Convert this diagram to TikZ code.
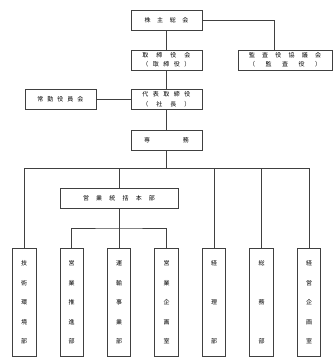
\documentclass[tikz,border=0pt]{standalone}
\usepackage{fontspec}
\newfontfamily\jpfont{Noto Sans CJK JP}
\newcommand{\spr}[2]{\makebox[#1][s]{#2}}

\begin{document}
\begin{tikzpicture}[x=1pt,y=-1pt,
    box/.style={draw=black!75, line width=0.6pt, minimum width=71pt, minimum height=20pt,
        inner sep=0pt, align=center, font=\jpfont\fontsize{6}{9.5}\selectfont},
    tallbox/.style={draw=black!75, line width=0.6pt, minimum width=23.5pt, minimum height=108pt,
        inner sep=0pt, anchor=north, align=center, font=\jpfont\fontsize{6}{19.5}\selectfont},
    link/.style={draw=black!75, line width=0.6pt}]
    \useasboundingbox (0,0) rectangle (333,357);

    % Top of the chart
    \node[box] (kabu) at (166.5,20) {\spr{44pt}{株\hfill 主\hfill 総\hfill 会}};
    \node[box] (torishimari) at (166.5,60) {\spr{48pt}{取\hfill 締\hfill 役\hfill 会}\\
        \spr{48pt}{（\hfill 取\hfill 締\hfill 役\hfill ）}};
    \node[box, minimum width=94pt] (kansa) at (285,60) {\spr{72pt}{監\hfill 査\hfill 役\hfill 協\hfill 議\hfill 会}\\
        \spr{72pt}{（\hfill 監\hfill 査\hfill 役\hfill ）}};
    \node[box] (jokin) at (60.5,99.5) {\spr{46pt}{常\hfill 勤\hfill 役\hfill 員\hfill 会}};
    \node[box] (daihyo) at (166.5,99.5) {\spr{48pt}{代\hfill 表\hfill 取\hfill 締\hfill 役}\\
        \spr{48pt}{（\hfill 社\hfill 長\hfill ）}};
    \node[box] (senmu) at (166.5,140) {\spr{45pt}{専\hfill 務}};
    \node[box, minimum width=118pt] (honbu) at (119,198) {\spr{72pt}{営\hfill 業\hfill 統\hfill 括\hfill 本\hfill 部}};

    % Departments
    \node[tallbox] (gijutsu) at (24.2,248) {技\\術\\環\\境\\部};
    \node[tallbox] (suishin) at (71.7,248) {営\\業\\推\\進\\部};
    \node[tallbox] (unyu) at (119,248) {運\\輸\\事\\業\\部};
    \node[tallbox] (kikaku) at (166.5,248) {営\\業\\企\\画\\室};
    \node[tallbox] (keiri) at (214,248) {経\\[19.5pt]理\\[19.5pt]部};
    \node[tallbox] (somu) at (261.5,248) {総\\[19.5pt]務\\[19.5pt]部};
    \node[tallbox] (keiei) at (309,248) {経\\営\\企\\画\\室};

    % Connectors
    \coordinate (kansain) at (274,50);
    \coordinate (bus) at (166.5,168);
    \coordinate (sub) at (119,228);
    \draw[link] (kabu) -- (torishimari);
    \draw[link] (kabu.east) -| (kansain);
    \draw[link] (torishimari) -- (daihyo);
    \draw[link] (jokin) -- (daihyo);
    \draw[link] (daihyo) -- (senmu);
    \draw[link] (senmu) -- (bus);
    \draw[link] (gijutsu.north |- bus) -- (keiei.north |- bus);
    \foreach \n in {gijutsu,keiri,somu,keiei}
        \draw[link] (\n.north) -- (\n.north |- bus);
    \draw[link] (honbu.north) -- (honbu.north |- bus);
    \draw[link] (honbu) -- (unyu);
    \draw[link] (suishin.north) |- (sub) -| (kikaku.north);
\end{tikzpicture}
\end{document}
